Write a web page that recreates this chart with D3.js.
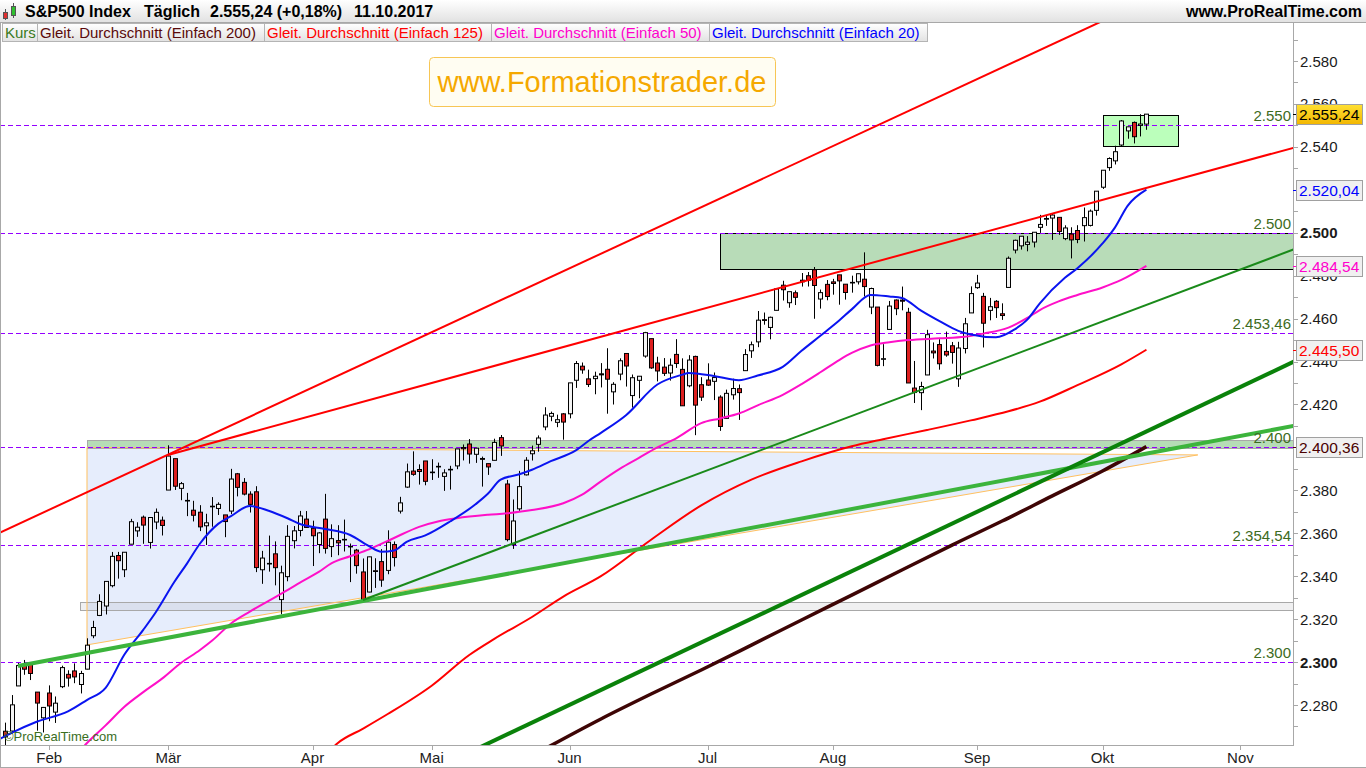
<!DOCTYPE html>
<html><head><meta charset="utf-8">
<script src="https://cdn.jsdelivr.net/npm/d3@7"></script>
<style>
html,body{margin:0;padding:0;background:#fff;overflow:hidden;}
svg{display:block;font-family:"Liberation Sans",Arial,sans-serif;}
</style></head><body>
<svg id="c" width="1366" height="768"></svg>
<script>
// ---------------- DATA ----------------
const dates = ["2017-01-23","2017-01-24","2017-01-25","2017-01-26","2017-01-27","2017-01-30","2017-01-31","2017-02-01","2017-02-02","2017-02-03","2017-02-06","2017-02-07","2017-02-08","2017-02-09","2017-02-10","2017-02-13","2017-02-14","2017-02-15","2017-02-16","2017-02-17","2017-02-21","2017-02-22","2017-02-23","2017-02-24","2017-02-27","2017-02-28","2017-03-01","2017-03-02","2017-03-03","2017-03-06","2017-03-07","2017-03-08","2017-03-09","2017-03-10","2017-03-13","2017-03-14","2017-03-15","2017-03-16","2017-03-17","2017-03-20","2017-03-21","2017-03-22","2017-03-23","2017-03-24","2017-03-27","2017-03-28","2017-03-29","2017-03-30","2017-03-31","2017-04-03","2017-04-04","2017-04-05","2017-04-06","2017-04-07","2017-04-10","2017-04-11","2017-04-12","2017-04-13","2017-04-17","2017-04-18","2017-04-19","2017-04-20","2017-04-21","2017-04-24","2017-04-25","2017-04-26","2017-04-27","2017-04-28","2017-05-01","2017-05-02","2017-05-03","2017-05-04","2017-05-05","2017-05-08","2017-05-09","2017-05-10","2017-05-11","2017-05-12","2017-05-15","2017-05-16","2017-05-17","2017-05-18","2017-05-19","2017-05-22","2017-05-23","2017-05-24","2017-05-25","2017-05-26","2017-05-30","2017-05-31","2017-06-01","2017-06-02","2017-06-05","2017-06-06","2017-06-07","2017-06-08","2017-06-09","2017-06-12","2017-06-13","2017-06-14","2017-06-15","2017-06-16","2017-06-19","2017-06-20","2017-06-21","2017-06-22","2017-06-23","2017-06-26","2017-06-27","2017-06-28","2017-06-29","2017-06-30","2017-07-03","2017-07-05","2017-07-06","2017-07-07","2017-07-10","2017-07-11","2017-07-12","2017-07-13","2017-07-14","2017-07-17","2017-07-18","2017-07-19","2017-07-20","2017-07-21","2017-07-24","2017-07-25","2017-07-26","2017-07-27","2017-07-28","2017-07-31","2017-08-01","2017-08-02","2017-08-03","2017-08-04","2017-08-07","2017-08-08","2017-08-09","2017-08-10","2017-08-11","2017-08-14","2017-08-15","2017-08-16","2017-08-17","2017-08-18","2017-08-21","2017-08-22","2017-08-23","2017-08-24","2017-08-25","2017-08-28","2017-08-29","2017-08-30","2017-08-31","2017-09-01","2017-09-05","2017-09-06","2017-09-07","2017-09-08","2017-09-11","2017-09-12","2017-09-13","2017-09-14","2017-09-15","2017-09-18","2017-09-19","2017-09-20","2017-09-21","2017-09-22","2017-09-25","2017-09-26","2017-09-27","2017-09-28","2017-09-29","2017-10-02","2017-10-03","2017-10-04","2017-10-05","2017-10-06","2017-10-09","2017-10-10","2017-10-11"];

const open = [2267.78,2267.88,2288.88,2298.63,2299.02,2286.01,2274.02,2285.59,2276.69,2288.54,2294.28,2295.87,2289.55,2296.70,2312.27,2321.72,2326.12,2335.58,2349.64,2343.01,2354.91,2361.11,2367.50,2355.73,2365.23,2366.08,2380.13,2394.75,2380.92,2375.23,2370.74,2369.81,2363.49,2372.52,2371.56,2368.55,2370.34,2387.71,2383.71,2378.24,2379.32,2343.00,2345.97,2350.42,2329.11,2339.79,2356.54,2361.31,2366.59,2362.34,2354.76,2366.59,2353.79,2356.59,2357.16,2353.92,2352.15,2341.98,2332.62,2342.53,2346.79,2342.69,2354.74,2370.33,2381.51,2388.98,2389.70,2393.68,2388.50,2391.05,2386.50,2389.79,2391.37,2399.94,2401.58,2396.79,2394.84,2392.44,2393.98,2404.55,2382.95,2354.69,2371.37,2387.21,2397.04,2401.41,2409.54,2414.50,2411.67,2415.63,2415.65,2431.28,2437.83,2431.92,2432.03,2434.27,2436.39,2425.88,2434.15,2443.75,2424.14,2431.24,2442.55,2450.66,2439.31,2437.40,2434.65,2443.32,2436.34,2428.70,2442.38,2429.20,2431.39,2430.78,2423.44,2413.52,2424.51,2427.35,2435.75,2444.99,2449.16,2459.50,2455.88,2463.85,2475.56,2467.40,2472.04,2477.88,2479.97,2482.76,2469.12,2475.94,2477.10,2480.38,2476.03,2476.88,2477.14,2478.35,2465.35,2465.38,2441.04,2454.96,2468.66,2468.63,2462.95,2427.64,2425.50,2433.75,2444.88,2447.91,2444.72,2447.35,2431.94,2446.06,2462.65,2474.42,2470.35,2463.83,2468.06,2462.25,2474.52,2491.94,2493.89,2494.56,2495.67,2502.51,2506.29,2506.84,2507.16,2497.26,2499.39,2501.04,2503.30,2503.41,2510.42,2521.20,2530.34,2533.48,2540.86,2547.44,2551.39,2549.99,2550.62];
const high = [2271.78,2284.63,2299.55,2300.99,2299.02,2286.01,2279.09,2289.14,2283.97,2298.31,2296.18,2299.40,2295.91,2311.08,2319.23,2331.58,2337.58,2351.30,2351.31,2351.16,2366.71,2365.13,2368.26,2367.34,2371.54,2367.79,2400.98,2394.75,2383.89,2378.80,2375.12,2373.09,2369.08,2376.86,2374.42,2368.55,2390.01,2388.10,2385.71,2379.55,2381.93,2351.81,2358.92,2356.22,2344.90,2363.78,2363.36,2370.42,2370.35,2365.87,2360.53,2378.36,2364.16,2363.76,2366.37,2355.22,2352.72,2348.26,2349.14,2348.35,2352.63,2361.37,2356.18,2376.98,2392.48,2398.16,2392.10,2393.68,2394.49,2392.93,2389.82,2391.43,2399.29,2401.36,2403.87,2399.74,2395.72,2392.44,2404.05,2405.77,2384.87,2375.74,2389.06,2395.46,2400.85,2405.58,2418.71,2416.68,2415.26,2415.99,2430.06,2440.23,2439.55,2436.21,2435.28,2439.27,2446.20,2430.38,2441.49,2443.75,2433.95,2433.15,2453.82,2450.66,2442.23,2441.62,2441.40,2450.42,2441.48,2442.97,2442.73,2432.71,2439.17,2434.90,2424.28,2426.92,2432.00,2429.30,2445.76,2449.32,2463.54,2462.82,2460.92,2473.83,2477.62,2472.54,2473.10,2481.24,2481.69,2484.04,2473.53,2477.96,2478.51,2480.38,2476.03,2480.00,2480.95,2490.87,2474.41,2465.38,2448.09,2468.22,2468.90,2474.93,2465.02,2440.27,2430.58,2454.77,2448.91,2450.39,2453.96,2449.12,2449.19,2460.31,2475.01,2480.38,2471.97,2469.64,2468.62,2467.11,2488.95,2496.77,2498.37,2498.43,2500.23,2508.32,2507.84,2508.85,2507.16,2503.47,2502.54,2503.51,2511.75,2510.81,2519.44,2529.23,2535.13,2540.53,2552.51,2549.41,2551.82,2555.23,2555.24];
const low = [2257.02,2266.68,2288.88,2294.08,2291.62,2268.04,2267.21,2272.44,2271.65,2287.88,2288.57,2290.16,2285.38,2296.61,2311.10,2321.42,2322.17,2334.81,2338.87,2339.58,2354.91,2358.34,2355.09,2352.87,2361.87,2358.96,2380.13,2380.17,2375.39,2367.98,2365.51,2361.01,2354.54,2363.04,2368.52,2358.18,2368.94,2377.18,2377.64,2369.66,2341.90,2336.45,2342.13,2335.74,2322.25,2337.63,2352.94,2358.58,2362.60,2344.73,2350.72,2350.52,2348.90,2349.76,2351.50,2337.25,2341.18,2328.95,2332.51,2334.54,2335.05,2340.91,2344.51,2369.19,2381.15,2386.78,2382.68,2382.36,2384.83,2385.82,2379.75,2380.35,2389.85,2393.92,2392.44,2392.79,2381.74,2387.19,2393.94,2396.05,2356.21,2352.72,2370.43,2386.92,2393.88,2397.99,2408.01,2412.20,2409.43,2403.59,2413.54,2427.71,2434.32,2428.12,2424.75,2427.94,2415.70,2419.97,2431.28,2428.34,2418.53,2422.88,2441.79,2436.60,2430.74,2433.27,2431.11,2437.03,2419.38,2428.02,2405.70,2421.65,2428.69,2422.05,2407.70,2413.52,2422.27,2412.79,2435.75,2441.69,2446.69,2457.16,2450.34,2463.85,2468.43,2465.06,2466.32,2474.91,2474.94,2459.93,2464.66,2468.53,2471.14,2466.48,2468.85,2472.08,2475.88,2470.32,2462.08,2437.75,2437.85,2454.96,2461.61,2463.86,2430.01,2420.69,2417.35,2433.67,2441.42,2436.19,2442.22,2439.03,2428.20,2443.77,2462.65,2473.85,2446.55,2459.20,2460.29,2459.40,2474.52,2490.37,2492.14,2491.35,2493.16,2499.92,2503.19,2496.67,2499.00,2496.54,2488.03,2495.12,2495.91,2502.93,2507.99,2520.40,2528.85,2531.80,2540.02,2543.79,2541.60,2544.86,2547.95];
const close = [2265.20,2280.07,2298.37,2296.68,2294.69,2280.90,2278.87,2279.55,2280.85,2297.42,2292.56,2293.08,2294.67,2307.87,2316.10,2328.25,2337.58,2349.25,2347.22,2351.16,2365.38,2362.82,2363.81,2367.34,2369.75,2363.64,2395.96,2381.92,2383.12,2375.31,2368.39,2362.98,2364.87,2372.60,2373.47,2365.45,2385.26,2381.38,2378.25,2373.47,2344.02,2348.45,2345.96,2343.98,2341.59,2358.57,2361.13,2368.06,2362.72,2358.84,2360.16,2352.95,2357.49,2355.54,2357.16,2353.78,2344.93,2328.95,2349.01,2342.19,2338.17,2355.84,2348.69,2374.15,2388.61,2387.45,2388.77,2384.20,2388.33,2391.17,2388.13,2389.52,2399.29,2399.38,2396.92,2399.63,2394.44,2390.90,2402.32,2400.67,2357.03,2365.72,2381.73,2394.02,2398.42,2404.39,2415.07,2415.82,2412.91,2411.80,2430.06,2439.07,2436.10,2429.33,2433.14,2433.79,2431.77,2429.39,2440.35,2437.92,2432.46,2433.15,2453.46,2437.03,2435.61,2434.50,2438.30,2439.07,2419.38,2440.69,2419.70,2423.41,2429.01,2432.54,2409.75,2425.18,2427.43,2425.53,2443.25,2447.83,2459.27,2459.14,2460.61,2473.83,2473.45,2472.54,2469.91,2477.13,2477.83,2475.42,2472.10,2470.30,2476.35,2477.57,2472.16,2476.83,2480.91,2474.92,2474.02,2438.21,2441.32,2465.84,2464.61,2468.11,2430.01,2425.55,2428.37,2452.51,2444.04,2438.97,2443.05,2444.24,2446.30,2457.59,2471.65,2476.55,2457.85,2465.54,2465.10,2461.43,2488.11,2496.48,2498.37,2495.62,2500.23,2503.87,2506.65,2508.24,2500.60,2502.22,2496.66,2496.84,2507.04,2510.06,2519.36,2529.12,2534.58,2537.74,2552.07,2549.33,2544.73,2550.64,2555.24];

// moving averages: [trading-day index, value]
const ma20 = [[-1,2264],[1,2267],[5,2272.2],[10,2277],[13,2282.3],[16,2288],[19,2303.5],[22,2315],[24,2323.2],[27,2337.5],[29,2346],[31,2355],[34,2364.5],[36,2368],[39,2372.7],[42,2370.5],[45,2367],[47,2364.3],[51,2362],[55,2359.2],[58,2354],[60,2351.4],[62,2352],[64,2356],[67,2359],[71,2365.6],[75,2373.5],[77,2378.5],[79,2385],[82,2387.5],[84,2389.6],[87,2393.6],[91,2398.6],[93,2403],[95,2406.8],[99,2415],[104,2429.3],[108,2433.9],[109,2434.7],[113,2433.3],[117,2431.3],[120,2433.5],[124,2437.5],[127,2445],[130,2452],[133,2459.1],[135,2464.3],[138,2471],[141,2470.3],[143,2469.6],[146,2463.8],[149,2458.8],[152,2454.3],[154,2452.6],[158,2451.3],[161,2455],[163,2459.5],[165,2467.1],[169,2479],[171,2483.5],[175,2495],[177,2502.5],[179,2512.5],[182,2520.04]];
const ma50 = [[12,2259],[13,2262.2],[16,2270.5],[19,2279.2],[22,2286],[25,2292.3],[28,2299.6],[31,2305.5],[33,2310],[36,2318],[39,2323.5],[42,2328.5],[45,2333.5],[47,2337],[50,2342],[52,2346],[55,2349.3],[58,2352.5],[62,2357.8],[66,2363],[69,2365.5],[72,2367],[77,2368.6],[80,2369.3],[84,2370.8],[89,2374],[92,2378],[95,2384.2],[98,2390],[101,2395],[104,2400],[107,2404.2],[111,2411.3],[114,2413.5],[117,2415.8],[120,2419.6],[124,2424.5],[127,2429.5],[130,2435],[133,2440.7],[135,2444],[138,2447.5],[141,2449],[144,2450],[149,2450.8],[153,2451.5],[156,2453],[160,2455.8],[163,2460.3],[165,2464],[168,2468],[171,2471],[175,2474.5],[178,2478],[182,2484.54]];
const ma125 = [[52,2259.5],[53,2262.2],[57,2268.9],[61,2275.8],[68,2289],[74,2303.3],[78,2310.8],[84,2321],[89,2330.5],[95,2340],[103,2357],[111,2373],[119,2385],[127,2393.5],[135,2400.5],[140,2403.8],[147,2408.1],[154,2412.6],[160,2416.8],[165,2421.3],[171,2429],[178,2438.7],[182,2445.5]];
const ma200 = [[86,2259.5],[95,2273.5],[103,2285.1],[111,2296.3],[119,2307.9],[127,2319.6],[135,2331.2],[143,2342.9],[151,2354.5],[159,2365.7],[167,2377.4],[175,2389.0],[182,2400.36]];

// trend lines [index, price]
const redUpper   = [[-3,2357.4],[176,2600]];
const redLower   = [[25.95,2396.5],[206,2540]];
const greenThin  = [[57.05,2328.9],[206,2492.8]];
const greenLight = [[2.03,2298.2],[206,2410.3]];
const greenDark  = [[70,2252.4],[206,2440.6]];
const triangle   = [[13.03,2400.0],[190.2,2396.5],[13.03,2308.0]];

// zones [i0, i1, pHigh, pLow]
const zoneBand   = [13.03, 206, 2403.5, 2400.0];
const zoneGray   = [11.9, 206, 2328.1, 2324.3];
const zoneBig    = [113.98, 206, 2500.0, 2483.1];
const zoneSmall  = [175.07, 187.0, 2554.8, 2540.4];

const levels = [2550, 2500, 2453.46, 2400, 2354.54, 2300];
const monthLabels = ["Feb","Mär","Apr","Mai","Jun","Jul","Aug","Sep","Okt","Nov"];
const monthIdx = [7,26,49,68,90,112,132,155,175,197];
const yTicks = [2280,2300,2320,2340,2360,2380,2420,2440,2460,2480,2500,2540,2560,2580];
const valueTags = [
  {v:2555.24, color:"#000", bg:"gold"},
  {v:2520.04, color:"#0000ff", bg:"#f0f0f0"},
  {v:2484.54, color:"#ff00cc", bg:"#f0f0f0"},
  {v:2445.50, color:"#ff0000", bg:"#f0f0f0"},
  {v:2400.36, color:"#4a0000", bg:"#f0f0f0"}
];
const legendItems = [
  {t:"Kurs", c:"#3a7a22"},
  {t:"Gleit. Durchschnitt (Einfach 200)", c:"#5a0a0a"},
  {t:"Gleit. Durchschnitt (Einfach 125)", c:"#ff0000"},
  {t:"Gleit. Durchschnitt (Einfach 50)", c:"#ff00cc"},
  {t:"Gleit. Durchschnitt (Einfach 20)", c:"#0000ff"}
];

// ---------------- RENDER ----------------
const locale = d3.formatLocale({decimal:",", thousands:".", grouping:[3], currency:["","€"]});
const fmtInt = locale.format(",.0f"), fmt2 = locale.format(",.2f");
const fmtLevel = v => (Math.round(v)===v ? fmtInt(v) : fmt2(v));

const svg = d3.select("#c");
const PL=0, PR=1293, PT=22, PB=745;
const x = d3.scaleLinear().domain([0,182]).range([5.3,1146.4]);
const y = d3.scaleLinear().domain([2280,2580]).range([705,61]);

const defs = svg.append("defs");
defs.append("clipPath").attr("id","clip").append("rect").attr("x",PL).attr("y",PT).attr("width",PR-PL).attr("height",PB-PT);
const gb = defs.append("linearGradient").attr("id","barG").attr("x1",0).attr("y1",0).attr("x2",0).attr("y2",1);
gb.append("stop").attr("offset","0").attr("stop-color","#ffffff");
gb.append("stop").attr("offset","1").attr("stop-color","#e2e2e2");
const gg = defs.append("linearGradient").attr("id","goldG").attr("x1",0).attr("y1",0).attr("x2",0).attr("y2",1);
gg.append("stop").attr("offset","0").attr("stop-color","#ffe033");
gg.append("stop").attr("offset","1").attr("stop-color","#f2b600");

svg.append("rect").attr("width",1366).attr("height",768).attr("fill","#fff");

const plot = svg.append("g").attr("clip-path","url(#clip)");

// zones
plot.append("polygon")
  .attr("points", triangle.map(d=>[x(d[0]),y(d[1])].join(",")).join(" "))
  .attr("fill","#e6edfc").attr("stroke","none");
function zone(z, fill, stroke){
  plot.append("rect").attr("x",Math.round(x(z[0]))+0.5).attr("y",Math.round(y(z[2]))+0.5)
    .attr("width",Math.round(x(z[1])-x(z[0]))).attr("height",Math.round(y(z[3])-y(z[2])))
    .attr("fill",fill).attr("stroke",stroke).attr("stroke-width",1);
}
zone(zoneGray, "rgba(140,140,150,0.13)", "#a8a8a8");
zone(zoneBand, "#b6dcb6", "#a8a8a8");
zone(zoneBig, "#b8dcb8", "#000");
zone(zoneSmall, "#bbffbb", "#000");

// triangle edges (orange)
const line = d3.line().x(d=>x(d[0])).y(d=>y(d[1]));
plot.append("path").attr("d", line([triangle[0],triangle[1]])).attr("stroke","#ffc060").attr("fill","none").attr("stroke-width",1);
plot.append("path").attr("d", line([triangle[2],triangle[1]])).attr("stroke","#ffc060").attr("fill","none").attr("stroke-width",1);
plot.append("path").attr("d", line([triangle[0],triangle[2]])).attr("stroke","#ffc060").attr("fill","none").attr("stroke-width",1);

// dashed levels
plot.selectAll("line.lvl").data(levels).join("line").attr("class","lvl")
  .attr("x1",PL).attr("x2",PR).attr("y1",d=>Math.round(y(d))+0.5).attr("y2",d=>Math.round(y(d))+0.5)
  .attr("stroke","#9400ff").attr("stroke-width",1).attr("stroke-dasharray","5,3");
svg.selectAll("text.lvl").data(levels).join("text").attr("class","lvl")
  .attr("x",PR-2).attr("y",d=>Math.round(y(d))-4).attr("text-anchor","end")
  .attr("font-size",15).attr("fill","#3d6b22").text(d=>fmtLevel(d));

// candles
const cg = plot.append("g");
const idx = d3.range(dates.length);
cg.selectAll("line").data(idx).join("line")
  .attr("x1",i=>Math.round(x(i))+0.5).attr("x2",i=>Math.round(x(i))+0.5)
  .attr("y1",i=>y(high[i])).attr("y2",i=>y(low[i])).attr("stroke","#000").attr("stroke-width",1);
cg.selectAll("rect").data(idx).join("rect")
  .attr("x",i=>Math.round(x(i))-2+0.5)
  .attr("y",i=>y(Math.max(open[i],close[i])))
  .attr("width",4)
  .attr("height",i=>Math.max(0.6, Math.abs(y(open[i])-y(close[i]))))
  .attr("fill",i=>close[i]>=open[i] ? "#f4f4f4" : "#dd2020")
  .attr("stroke","#000").attr("stroke-width",1);

// moving averages
const curve = d3.line().x(d=>x(d[0])).y(d=>y(d[1])).curve(d3.curveMonotoneX);
plot.append("path").attr("d",curve(ma200)).attr("fill","none").attr("stroke","#3e0505").attr("stroke-width",3.5);
plot.append("path").attr("d",curve(ma125)).attr("fill","none").attr("stroke","#ff0000").attr("stroke-width",2);
plot.append("path").attr("d",curve(ma50)).attr("fill","none").attr("stroke","#ff10c8").attr("stroke-width",2);
plot.append("path").attr("d",curve(ma20)).attr("fill","none").attr("stroke","#0a14f0").attr("stroke-width",2);

// trend lines
plot.append("path").attr("d",line(greenLight)).attr("fill","none").attr("stroke","#3cb43c").attr("stroke-width",4);
plot.append("path").attr("d",line(greenDark)).attr("fill","none").attr("stroke","#0a820a").attr("stroke-width",4);
plot.append("path").attr("d",line(greenThin)).attr("fill","none").attr("stroke","#1a8a1a").attr("stroke-width",2);
plot.append("path").attr("d",line(redUpper)).attr("fill","none").attr("stroke","#ff0000").attr("stroke-width",2);
plot.append("path").attr("d",line(redLower)).attr("fill","none").attr("stroke","#ff0000").attr("stroke-width",2);

// watermark box
svg.append("rect").attr("x",429.5).attr("y",57.5).attr("width",346).attr("height",49).attr("rx",4)
  .attr("fill","#fffdf2").attr("stroke","#f7c655").attr("stroke-width",1);
svg.append("text").attr("x",602).attr("y",92).attr("text-anchor","middle").attr("font-size",29)
  .attr("fill","#f5a800").text("www.Formationstrader.de");

// copyright
svg.append("text").attr("x",4).attr("y",741).attr("font-size",13).attr("fill","#3a6e1e").text("\u00A9ProRealTime.com");

// axes frame
svg.append("line").attr("x1",PR+0.5).attr("x2",PR+0.5).attr("y1",PT).attr("y2",PB).attr("stroke","#a8a8a8");
svg.append("line").attr("x1",0).attr("x2",PR+1).attr("y1",PB+0.5).attr("y2",PB+0.5).attr("stroke","#a8a8a8");
svg.append("line").attr("x1",0.5).attr("x2",0.5).attr("y1",PT).attr("y2",768).attr("stroke","#a8a8a8");
svg.append("line").attr("x1",0).attr("x2",1366).attr("y1",767.5).attr("y2",767.5).attr("stroke","#a8a8a8");

// x axis
const xa = svg.append("g");
xa.selectAll("line").data(monthIdx).join("line")
  .attr("x1",d=>Math.round(x(d))+0.5).attr("x2",d=>Math.round(x(d))+0.5).attr("y1",PB).attr("y2",PB+5).attr("stroke","#a8a8a8");
xa.selectAll("text").data(monthLabels).join("text")
  .attr("x",(d,i)=>x(monthIdx[i])).attr("y",763).attr("text-anchor","middle").attr("font-size",15).attr("fill","#222").text(d=>d);

// y axis (labels partly covered by value tags are clipped to their visible part)
const ya = svg.append("g");
const minor = d3.range(2270,2600,10);
ya.selectAll("line").data(minor).join("line")
  .attr("x1",PR).attr("x2",PR+5).attr("y1",d=>Math.round(y(d))+0.5).attr("y2",d=>Math.round(y(d))+0.5).attr("stroke","#a8a8a8");
const tagBoxes = valueTags.map(t=>{const yy=Math.round(y(t.v)); return [yy-10, yy+11];});
yTicks.forEach((d,k)=>{
  const ty = y(d);
  let top = ty-12, bot = ty+8;
  tagBoxes.forEach(b=>{
    if (b[0] < bot && b[1] > top) {
      if (b[0] > ty-12 && b[0] < ty+8 && b[0] - top > bot - b[1]) bot = b[0];
      else top = Math.max(top, b[1]);
    }
  });
  const cid = "tc"+k;
  defs.append("clipPath").attr("id",cid).append("rect").attr("x",PR+2).attr("y",top).attr("width",70).attr("height",Math.max(0,bot-top));
  ya.append("text").attr("clip-path","url(#"+cid+")")
    .attr("x",PR+7).attr("y",ty+5.5).attr("font-size",15)
    .attr("font-weight",d%100===0?"bold":"normal").attr("fill","#1a1a1a").text(fmtInt(d));
});

// value tags
const vt = svg.append("g");
valueTags.forEach(t=>{
  const yy = Math.round(y(t.v));
  vt.append("line").attr("x1",PR).attr("x2",PR+5).attr("y1",yy+0.5).attr("y2",yy+0.5).attr("stroke",t.color);
  vt.append("rect").attr("x",1296.5).attr("y",yy-9.5).attr("width",66).attr("height",20)
    .attr("fill",t.bg==="gold"?"url(#goldG)":t.bg).attr("stroke","#a0a0a0");
  vt.append("text").attr("x",1299).attr("y",yy+6).attr("font-size",15.5).attr("fill",t.color).text(fmt2(t.v));
});

// title bar
svg.append("rect").attr("x",0).attr("y",0).attr("width",1366).attr("height",22).attr("fill","url(#barG)");
svg.append("line").attr("x1",0).attr("x2",1366).attr("y1",22.5).attr("y2",22.5).attr("stroke","#a8a8a8");
svg.append("line").attr("x1",5.5).attr("x2",5.5).attr("y1",9).attr("y2",20).attr("stroke","#555");
svg.append("rect").attr("x",3.5).attr("y",12.5).attr("width",4).attr("height",6).attr("fill","#e03030").attr("stroke","#555");
svg.append("line").attr("x1",13.5).attr("x2",13.5).attr("y1",3).attr("y2",18).attr("stroke","#555");
svg.append("rect").attr("x",11.5).attr("y",6.5).attr("width",4).attr("height",9).attr("fill","#30c030").attr("stroke","#555");
const title = svg.append("text").attr("y",17).attr("font-size",16).attr("font-weight","bold").attr("fill","#000");
title.append("tspan").attr("x",25).text("S&P500 Index");
title.append("tspan").attr("x",144).text("Täglich");
title.append("tspan").attr("x",210).text("2.555,24 (+0,18%)");
title.append("tspan").attr("x",354).text("11.10.2017");
svg.append("text").attr("x",1362).attr("y",17).attr("text-anchor","end").attr("font-size",16).attr("font-weight","bold").text("www.ProRealTime.com");

// legend
const lg = svg.append("g");
const edges = [2,37,264,491,709,927];
legendItems.forEach((it,i)=>{
  lg.append("rect").attr("x",edges[i]+0.5).attr("y",23.5).attr("width",edges[i+1]-edges[i]).attr("height",18)
    .attr("fill","url(#barG)").attr("stroke","#b4b4b4");
  lg.append("text").attr("x",edges[i]+3).attr("y",38).attr("font-size",15).attr("fill",it.c).text(it.t);
});
</script>
</body></html>
